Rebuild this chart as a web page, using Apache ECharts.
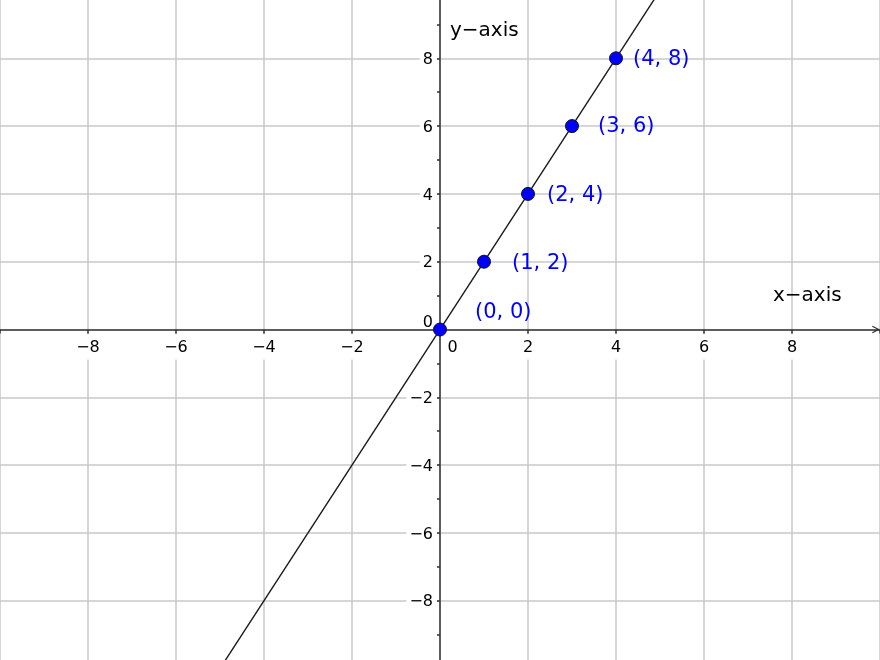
<!DOCTYPE html>
<html>
<head>
<meta charset="utf-8">
<title>y = 2x</title>
<script src="https://cdn.jsdelivr.net/npm/echarts@6/dist/echarts.min.js"></script>
<style>
  html, body { margin: 0; padding: 0; background: #fff; }
  #main { width: 880px; height: 660px; }
</style>
</head>
<body>
<div id="main"></div>
<script>
// points on the line y = 2x
var pointX = [0, 1, 2, 3, 4];
var pointY = [0, 2, 4, 6, 8];
var pointNames = ['(0, 0)', '(1, 2)', '(2, 4)', '(3, 6)', '(4, 8)'];
// axis ranges and tick step
var xRange = [-10, 10];
var yRange = [-10, 10];
var tickStep = 2;

// label nudges in px (GeoGebra placed them by hand)
var labelDx = [28, 21, 12, 19, 10];
var labelDy = [-17, 2, 2, 0, 1.5];

var FONT = 'DejaVu Sans';
var AXIS_COLOR = '#333';
var GRID_COLOR = '#c8c8c8';

// line through first and last point, stretched over the x range
var slope = (pointY[pointY.length - 1] - pointY[0]) / (pointX[pointX.length - 1] - pointX[0]);
var intercept = pointY[0] - slope * pointX[0];
var lineData = [
  [xRange[0], slope * xRange[0] + intercept],
  [xRange[1], slope * xRange[1] + intercept]
];

function fmt(v) {
  return v < 0 ? '\u2212' + (-v) : String(v);
}

// grid 0: plot + grid lines, grid 1: its bottom edge is the x axis, grid 2: its left edge is the y axis
var PLOT_TOP = -9.5, PLOT_BOTTOM = -8.5;
var ZERO_Y = 329.5, ZERO_X = 440;

var myChart = echarts.init(document.getElementById('main'));

var hidden = { show: false };

var option = {
  backgroundColor: '#fff',
  animation: false,
  grid: [
    { left: 0, right: 0, top: PLOT_TOP, bottom: PLOT_BOTTOM, containLabel: false, outerBoundsMode: 'none' },
    { left: 0, right: 0, top: 0, bottom: 660 - ZERO_Y, containLabel: false, outerBoundsMode: 'none' },
    { left: ZERO_X, right: 0, top: PLOT_TOP, bottom: PLOT_BOTTOM, containLabel: false, outerBoundsMode: 'none' }
  ],
  xAxis: [
    {
      gridIndex: 0, type: 'value', min: xRange[0], max: xRange[1], interval: tickStep, z: 0,
      axisLine: hidden, axisTick: hidden, axisLabel: hidden,
      splitLine: { show: true, lineStyle: { color: GRID_COLOR, width: 1.5 } }
    },
    {
      gridIndex: 1, type: 'value', min: xRange[0], max: xRange[1], interval: tickStep, z: 1,
      position: 'bottom',
      axisLine: {
        onZero: false,
        lineStyle: { color: AXIS_COLOR, width: 1.5 },
        symbol: ['none', 'path://M0,10 L5,0 L10,10 L8.6,10.9 L5,3.4 L1.4,10.9 Z'],
        symbolSize: [14, 8],
        symbolOffset: [0, -4]
      },
      axisTick: { show: true, length: 4, lineStyle: { color: AXIS_COLOR, width: 1.5 } },
      splitLine: hidden,
      axisLabel: {
        margin: 5,
        fontFamily: FONT,
        fontSize: 16,
        color: '#000',
        formatter: function (v) {
          if (v === xRange[0] || v === xRange[1]) return '';
          if (v === 0) return '{z|0}';
          return '{n|' + fmt(v) + '}';
        },
        rich: {
          n: { fontFamily: FONT, fontSize: 16, color: '#000', backgroundColor: '#fff', padding: [5, 3, 4, 3] },
          z: { fontFamily: FONT, fontSize: 16, color: '#000', padding: [5, 0, 4, 25] }
        }
      }
    },
    { gridIndex: 2, type: 'value', min: xRange[0], max: xRange[1], show: false }
  ],
  yAxis: [
    {
      gridIndex: 0, type: 'value', min: yRange[0], max: yRange[1], interval: tickStep, z: 0,
      axisLine: hidden, axisTick: hidden, axisLabel: hidden,
      splitLine: { show: true, lineStyle: { color: GRID_COLOR, width: 1.5 } }
    },
    { gridIndex: 1, type: 'value', min: yRange[0], max: yRange[1], show: false },
    {
      gridIndex: 2, type: 'value', min: yRange[0], max: yRange[1], interval: tickStep, z: 1,
      position: 'left',
      axisLine: { onZero: false, lineStyle: { color: AXIS_COLOR, width: 1.5 } },
      axisTick: { show: true, length: 4, lineStyle: { color: AXIS_COLOR, width: 1.5 } },
      minorTick: { show: true, splitNumber: 2, length: 3, lineStyle: { color: AXIS_COLOR, width: 1.5 } },
      splitLine: hidden,
      axisLabel: {
        margin: 3,
        fontFamily: FONT,
        fontSize: 16,
        color: '#000',
        formatter: function (v) {
          if (v === yRange[0] || v === yRange[1]) return '';
          if (v === 0) return '{z|0}';
          return '{n|' + fmt(v) + '}';
        },
        rich: {
          n: { fontFamily: FONT, fontSize: 16, color: '#000', backgroundColor: '#fff', padding: [6, 4, 3, 3] },
          z: { fontFamily: FONT, fontSize: 16, color: '#000', padding: [0, 4, 14, 3] }
        }
      }
    }
  ],
  graphic: [
    {
      type: 'text', left: 450, top: 21, z: 10,
      style: { text: 'y\u2212axis', font: '20px "DejaVu Sans"', fill: '#000' }
    },
    {
      type: 'text', left: 773, top: 286, z: 10,
      style: { text: 'x\u2212axis', font: '20px "DejaVu Sans"', fill: '#000' }
    }
  ],
  series: [
    {
      type: 'line',
      xAxisIndex: 0,
      yAxisIndex: 0,
      data: lineData,
      symbol: 'none',
      clip: true,
      silent: true,
      lineStyle: { color: '#1a1a1a', width: 1.4 },
      z: 2
    },
    {
      type: 'scatter',
      xAxisIndex: 0,
      yAxisIndex: 0,
      symbol: 'circle',
      symbolSize: 13,
      z: 3,
      itemStyle: { color: '#0000ff', borderColor: '#111', borderWidth: 1, opacity: 1 },
      label: {
        show: true,
        position: 'right',
        fontFamily: FONT,
        fontSize: 21,
        color: '#0000ff',
        formatter: function (p) { return pointNames[p.dataIndex]; }
      },
      data: pointX.map(function (x, i) {
        return {
          value: [x, pointY[i]],
          label: { distance: labelDx[i], offset: [0, labelDy[i]] }
        };
      })
    }
  ]
};

myChart.setOption(option);
window.addEventListener('resize', function () {
  myChart.resize();
});
</script>
</body>
</html>
